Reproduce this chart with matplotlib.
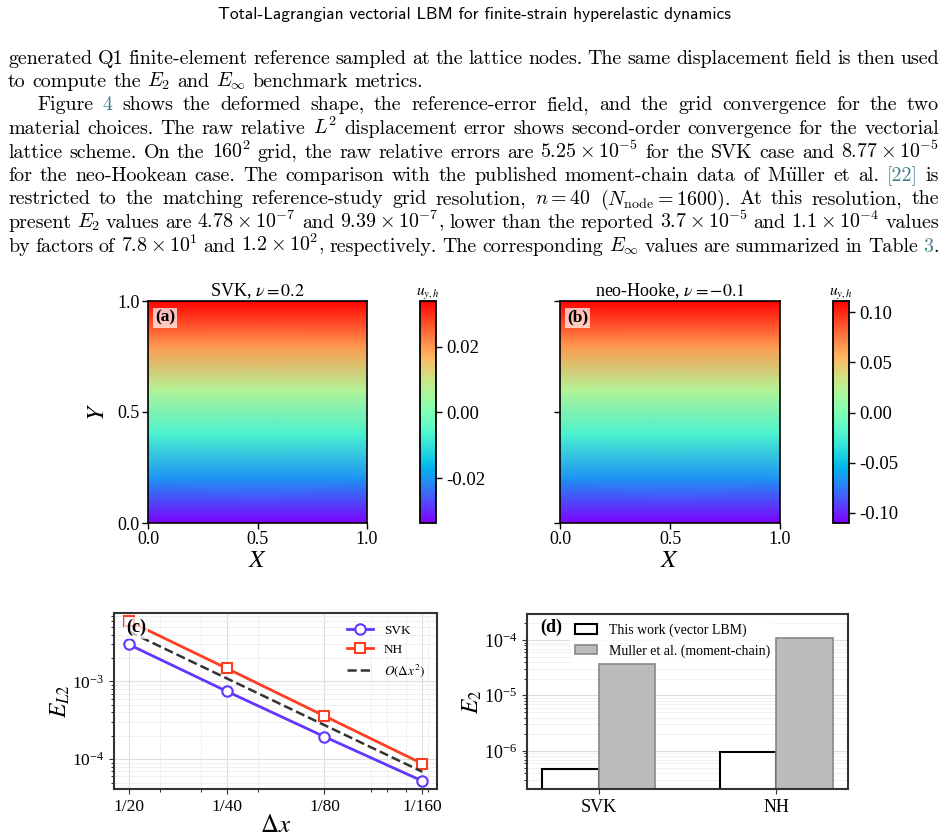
import re
import numpy as np
import matplotlib
matplotlib.use("Agg")
import matplotlib.pyplot as plt
from matplotlib.ticker import NullFormatter

W, H = 946, 840

# page text (running header + the paragraph above the figure)
header = "Total-Lagrangian vectorial LBM for finite-strain hyperelastic dynamics"
body_lines = [
    "generated Q1 finite-element reference sampled at the lattice nodes. The same displacement field is then used",
    r"to compute the $E_2$ and $E_\infty$ benchmark metrics.",
    r"Figure §4§ shows the deformed shape, the reference-error field, and the grid convergence for the two",
    r"material choices. The raw relative $L^2$ displacement error shows second-order convergence for the vectorial",
    r"lattice scheme. On the $160^2$ grid, the raw relative errors are $5.25\times10^{-5}$ for the SVK case and $8.77\times10^{-5}$",
    r"for the neo-Hookean case. The comparison with the published moment-chain data of M$\ddot{\mathrm{u}}$ller et al. §[22]§ is",
    r"restricted to the matching reference-study grid resolution, $n = 40$ ($N_{\mathrm{node}} = 1600$). At this resolution, the",
    r"present $E_2$ values are $4.78\times10^{-7}$ and $9.39\times10^{-7}$, lower than the reported $3.7\times10^{-5}$ and $1.1\times10^{-4}$ values",
    r"by factors of $7.8\times10^{1}$ and $1.2\times10^{2}$, respectively. The corresponding $E_\infty$ values are summarized in Table §3§.",
]
indent_lines = [2]
ragged_lines = [1]

y_levels = [0.0, 0.2, 0.4, 0.6, 0.8, 1.0]
uy_svk = [-0.0335, -0.0201, -0.0067, 0.0068, 0.0203, 0.0338]
uy_nh = [-0.110, -0.066, -0.022, 0.0222, 0.0666, 0.111]
cbar_ticks_svk = [-0.02, 0.00, 0.02]
cbar_ticks_nh = [-0.10, -0.05, 0.00, 0.05, 0.10]

# (c): grid convergence
dx = [1 / 20, 1 / 40, 1 / 80, 1 / 160]
dx_labels = ["1/20", "1/40", "1/80", "1/160"]
err_svk = [3.0e-3, 7.5e-4, 1.95e-4, 5.25e-5]
err_nh = [6.0e-3, 1.48e-3, 3.6e-4, 8.77e-5]
err_ref = [4.4e-3, 1.1e-3, 2.75e-4, 6.9e-5]

# (d): E2 comparison at n = 40
cases = ["SVK", "NH"]
e2_this = [4.78e-7, 9.39e-7]
e2_muller = [3.7e-5, 1.1e-4]

plt.rcParams['font.family'] = 'serif'
plt.rcParams['font.serif'] = ['Liberation Serif', 'DejaVu Serif']
plt.rcParams['mathtext.fontset'] = 'stix'
plt.rcParams['axes.unicode_minus'] = False

fig = plt.figure(figsize=(W / 100, H / 100), dpi=100)
renderer = fig.canvas.get_renderer()


def fx(px):
    return px / W


def fy(py):
    return 1 - py / H


def px_axes(l, t, r, b):
    return fig.add_axes([l / W, 1 - b / H, (r - l) / W, (b - t) / H])


# running header, scaled to the width it has on the page
ht = fig.text(fx(474), fy(15), header, family='cmss10', fontsize=12, ha='center', va='center')
hw = ht.get_window_extent(renderer).width
ht.set_fontsize(12 * 515 / hw)

# justified body text, placed word by word
link = '#3f7f8c'
token_re = re.compile(r'(?:\$[^$]*\$|[^\s$])+')
body_fs = 14.4
space_w = 0.333 * body_fs * 100 / 72
right_edge = 939
for i, line in enumerate(body_lines):
    base = 63.5 + 23.5 * i
    x0 = 37 if i in indent_lines else 8
    words = token_re.findall(line)
    pieces, widths = [], []
    for w in words:
        objs, wsum = [], 0
        for k, p in enumerate(w.split('§')):
            if not p:
                continue
            t = fig.text(0, fy(base), p, fontsize=body_fs, family='cmr10',
                         math_fontfamily='cm', va='baseline',
                         color=link if k % 2 else 'black')
            pw = t.get_window_extent(renderer).width
            objs.append((t, pw))
            wsum += pw
        pieces.append(objs)
        widths.append(wsum)
    if i in ragged_lines:
        gap = space_w
    else:
        gap = (right_edge - x0 - sum(widths)) / (len(words) - 1)
    x = x0
    for objs, ww in zip(pieces, widths):
        xx = x
        for t, pw in objs:
            t.set_x(fx(xx))
            xx += pw
        x += ww + gap

tick_fs = 13
tag_box = dict(facecolor='white', alpha=0.7, edgecolor='none', pad=1.5)

# (a) and (b): displacement fields
field_panels = [
    (148, 367, 420, 436, uy_svk, cbar_ticks_svk, r"SVK, $\nu = 0.2$", "(a)", True),
    (560, 780, 833, 849, uy_nh, cbar_ticks_nh, r"neo-Hooke, $\nu = -0.1$", "(b)", False),
]
for l, r, cl, cr, uy, cticks, title, tag, first in field_panels:
    ax = px_axes(l, 301, r, 523)
    C = np.tile(np.array(uy)[:, None], (1, 2))
    mesh = ax.pcolormesh([0, 1], y_levels, C, shading='gouraud', cmap='rainbow',
                         vmin=min(uy), vmax=max(uy))
    ax.set_xlim(0, 1)
    ax.set_ylim(0, 1)
    ax.set_xticks([0, 0.5, 1.0])
    ax.set_yticks([0, 0.5, 1.0])
    ax.xaxis.set_major_formatter('{x:.1f}')
    ax.yaxis.set_major_formatter('{x:.1f}')
    ax.tick_params(labelsize=tick_fs, length=4, width=1, pad=2)
    if not first:
        ax.tick_params(labelleft=False)
    else:
        ax.set_ylabel(r"$Y$", fontsize=18)
        ax.yaxis.set_label_coords(-0.18, 0.5)
    ax.set_xlabel(r"$X$", fontsize=18)
    ax.xaxis.set_label_coords(0.5, -0.12)
    for s in ax.spines.values():
        s.set_linewidth(1.2)
    ax.set_title(title, fontsize=13, pad=2)
    ax.text(0.032, 0.96, tag, transform=ax.transAxes, fontsize=12.5, fontweight='bold',
            ha='left', va='top', bbox=tag_box)

    cax = px_axes(cl, 301, cr, 523)
    cb = fig.colorbar(mesh, cax=cax)
    cb.set_ticks(cticks)
    cb.ax.yaxis.set_major_formatter('{x:.2f}')
    cb.ax.tick_params(labelsize=13.5, length=4, width=1)
    cb.outline.set_linewidth(1.3)
    cb.ax.set_title(r"$u_{y,h}$", fontsize=11, pad=2)

dark = '#333333'

# (c): convergence
ax = px_axes(114, 613, 437, 789)
ax.plot(dx, err_svk, '-o', color='#6236ff', lw=2, ms=7.5, mfc='white', mew=1.5, label='SVK')
ax.plot(dx, err_nh, '-s', color='#ff3d21', lw=2, ms=7.5, mfc='white', mew=1.5, label='NH')
ax.plot(dx, err_ref, '--', color=dark, lw=1.8, label=r"$O(\Delta x^2)$")
ax.set_xscale('log')
ax.set_yscale('log')
ax.invert_xaxis()
ax.set_xticks(dx, dx_labels)
ax.xaxis.set_minor_formatter(NullFormatter())
ax.grid(True, which='major', color='#dddddd', lw=0.8)
ax.grid(True, which='minor', color='#eeeeee', lw=0.6)
ax.set_axisbelow(True)
ax.tick_params(labelsize=12.5, color=dark)
for s in ax.spines.values():
    s.set_linewidth(1.5)
    s.set_color(dark)
ax.set_xlabel(r"$\Delta x$", fontsize=18)
ax.xaxis.set_label_coords(0.5, -0.15)
ax.set_ylabel(r"$E_{L2}$", fontsize=17)
ax.yaxis.set_label_coords(-0.13, 0.5)
ax.legend(loc='upper right', frameon=False, fontsize=9.5, handlelength=2.0)
ax.text(0.037, 0.965, "(c)", transform=ax.transAxes, fontsize=13, fontweight='bold',
        ha='left', va='top', bbox=tag_box, zorder=5)

# (d): E2 against the moment-chain reference
ax = px_axes(527, 614, 848, 789)
xc = np.arange(len(cases))
bw = 0.32
ax.bar(xc - bw / 2, e2_this, bw, color='white', edgecolor='black', lw=1.5,
       label='This work (vector LBM)')
ax.bar(xc + bw / 2, e2_muller, bw, color='#bbbbbb', edgecolor='#888888', lw=1.2,
       label='Muller et al. (moment-chain)')
ax.set_yscale('log')
ax.set_ylim(2.06e-7, 2.94e-4)
ax.set_xticks(xc, cases)
ax.grid(True, axis='y', which='major', color='#dddddd', lw=0.8)
ax.grid(True, axis='y', which='minor', color='#eeeeee', lw=0.6)
ax.set_axisbelow(True)
ax.tick_params(labelsize=13, color=dark)
for s in ax.spines.values():
    s.set_linewidth(1.5)
    s.set_color(dark)
ax.set_ylabel(r"$E_2$", fontsize=17)
ax.yaxis.set_label_coords(-0.135, 0.5)
ax.legend(loc='upper left', bbox_to_anchor=(0.12, 1.0), fontsize=10, framealpha=0.8,
          edgecolor='none', handlelength=1.6, borderaxespad=0.3)
ax.text(0.04, 0.975, "(d)", transform=ax.transAxes, fontsize=13, fontweight='bold',
        ha='left', va='top')

fig.savefig("out.png", dpi=100)
